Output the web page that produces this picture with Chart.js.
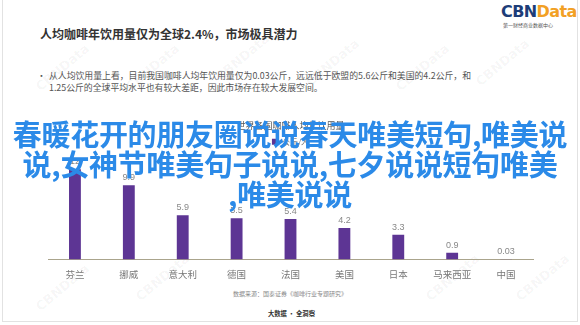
<!DOCTYPE html>
<html>
<head>
<meta charset="utf-8">
<script src="https://cdn.jsdelivr.net/npm/chart.js"></script>
<style>
  html, body { margin: 0; padding: 0; background: #fff; }
  body { width: 580px; height: 325px; position: relative; overflow: hidden;
         font-family: "Noto Sans CJK SC", "Noto Sans", sans-serif; }
  .frame { position: absolute; left: 2px; top: -1px; width: 574px; height: 321px;
           border: 1px solid #e2e2e2; }
  .title { position: absolute; left: 40px; top: 25px; font-size: 12px; font-weight: bold;
           color: #333; white-space: nowrap; }
  .logo { position: absolute; left: 501px; top: 2px; font-family: "DejaVu Sans", sans-serif;
          font-weight: bold; font-size: 16px; letter-spacing: -0.6px; }
  .logo .cbn { color: #1d3d78; }
  .logo .data { color: #f2a024; }
  .logo-sub { position: absolute; left: 503px; top: 21px; font-size: 5px; color: #555; }
  .note { position: absolute; left: 37px; top: 70px; font-size: 8.85px; line-height: 11.5px;
          color: #555; }
  .note .b { position: absolute; left: 0; }
  .note .t { padding-left: 12px; white-space: nowrap; }
  .wrap { position: absolute; left: 40px; top: 110px; width: 500px; height: 171px; }
  .src { position: absolute; left: 233px; top: 289px; font-size: 6px; color: #888; }
  .slogan { position: absolute; left: 268px; top: 309px; font-size: 6.3px; font-weight: bold; color: #333; }
  .overlay { position: absolute; left: 0; top: 118px; width: 580px; text-align: center;
             font-size: 29px; line-height: 30px; font-weight: bold; color: #2b8ae8;
             white-space: nowrap; letter-spacing: -0.3px; }
  .wm { position: absolute; font-family: "DejaVu Sans", sans-serif; font-size: 13px; font-weight: bold;
        color: rgba(0,0,0,0.045); transform: rotate(-40deg); }
</style>
</head>
<body>
<div class="frame"></div>
<div class="wm" style="left:30px;top:60px">CBNData</div>
<div class="wm" style="left:120px;top:60px">CBNData</div>
<div class="wm" style="left:210px;top:50px">CBNData</div>
<div class="wm" style="left:300px;top:55px">CBNData</div>
<div class="wm" style="left:390px;top:60px">CBNData</div>
<div class="wm" style="left:470px;top:55px">CBNData</div>
<div class="wm" style="left:30px;top:280px">CBNData</div>
<div class="wm" style="left:130px;top:270px">CBNData</div>
<div class="wm" style="left:420px;top:270px">CBNData</div>
<div class="wm" style="left:510px;top:270px">CBNData</div>

<div class="title">人均咖啡年饮用量仅为全球2.4%，市场极具潜力</div>
<div class="logo"><span class="cbn">CBN</span><span class="data">Data</span></div>
<div class="logo-sub">第一财经商业数据中心</div>
<div class="note">
  <span class="b">•</span>
  <div class="t">从人均饮用量上看，目前我国咖啡人均年饮用量仅为0.03公斤，远远低于欧盟的5.6公斤和美国的4.2公斤，和</div>
  <div class="t">1.25公斤的全球平均水平也有较大差距，因此市场存在较大发展空间。</div>
</div>

<div class="wrap"><canvas id="c"></canvas></div>

<div class="src">数据来源：国泰证券《咖啡行业专题研究》</div>
<div class="slogan">大数据 · 全洞察</div>

<div class="overlay">春暖花开的朋友圈说说春天唯美短句,唯美说<br>说,女神节唯美句子说说,七夕说说短句唯美<br>,唯美说说</div>

<script>
const countries = ['芬兰', '挪威', '意大利', '德国', '法国', '美国', '日本', '马来西亚', '中国'];
const perCapita = [12, 9.9, 5.9, 5.5, 5.4, 4.2, 3.3, 0.9, 0.03];
const seriesName = '公斤/人';
const legendTitle = '世界各国咖啡人均年饮用量';

// value labels above each bar
const valueLabels = {
  id: 'valueLabels',
  afterDatasetsDraw(chart) {
    const ctx = chart.ctx;
    const meta = chart.getDatasetMeta(0);
    ctx.save();
    ctx.font = '9px "Liberation Sans", sans-serif';
    ctx.fillStyle = '#888';
    ctx.textAlign = 'center';
    ctx.textBaseline = 'bottom';
    meta.data.forEach((bar, i) => {
      ctx.fillText(String(perCapita[i]), bar.x, bar.y - 3);
    });
    ctx.restore();
  }
};

new Chart(document.getElementById('c'), {
  type: 'bar',
  data: {
    labels: countries,
    datasets: [{
      label: seriesName,
      data: perCapita,
      backgroundColor: '#5d3594',
      borderWidth: 0,
      barPercentage: 0.22,
      categoryPercentage: 1
    }]
  },
  options: {
    responsive: true,
    maintainAspectRatio: false,
    animation: false,
    layout: { padding: { left: 8, right: 7, top: 4, bottom: 0 } },
    plugins: {
      legend: {
        display: true,
        position: 'top',
        title: {
          display: true,
          text: legendTitle,
          color: '#555',
          font: { size: 9, family: '"Noto Sans CJK SC", sans-serif' },
          padding: { top: 7, bottom: 0 }
        },
        labels: {
          boxWidth: 6,
          boxHeight: 6,
          color: '#666',
          font: { size: 8, family: '"Noto Sans CJK SC", sans-serif' },
          padding: 6
        }
      },
      tooltip: { enabled: false }
    },
    scales: {
      x: {
        grid: { display: false },
        border: { display: true, color: '#aaa48c', width: 1 },
        ticks: {
          color: '#777',
          font: { size: 9.5, family: '"Noto Sans CJK SC", sans-serif' },
          padding: 1,
          maxRotation: 0,
          autoSkip: false
        }
      },
      y: {
        display: false,
        min: 0,
        max: 13.8
      }
    }
  },
  plugins: [valueLabels]
});
</script>
</body>
</html>
